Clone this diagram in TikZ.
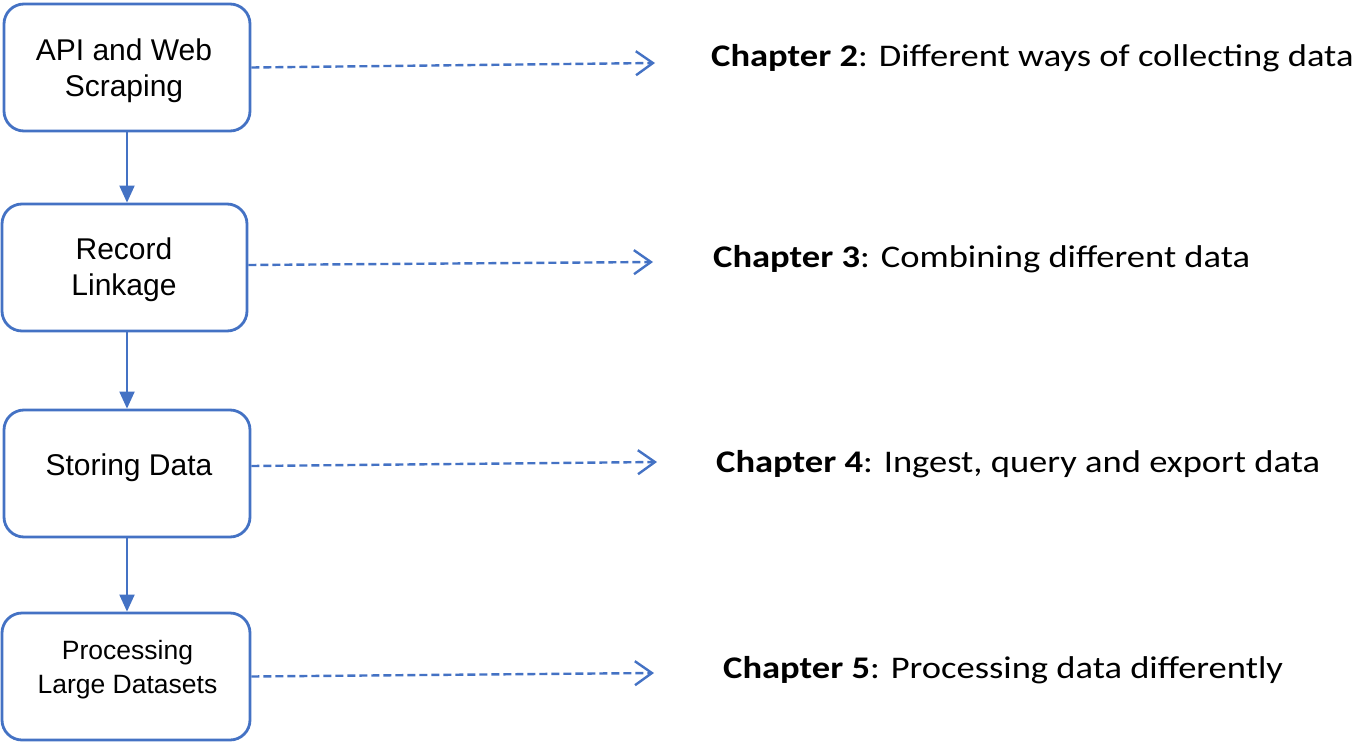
\documentclass[tikz,border=0pt]{standalone}
\usepackage{fontspec}
\setmainfont{Carlito}[FakeStretch=1.16]
\newfontfamily\boxfont{Liberation Sans}
\usetikzlibrary{arrows.meta,calc}
\definecolor{ob}{HTML}{4472C4}
\tikzset{
  stagebox/.style={draw=ob, line width=2.8pt, rounded corners=20pt, fill=white,
    minimum width=246pt, minimum height=127pt, inner sep=0pt},
  boxtext/.style={anchor=base, inner sep=0pt, text=black,
    font=\boxfont\fontsize{30}{36}\selectfont},
  smallboxtext/.style={boxtext, font=\boxfont\fontsize{26.5}{33}\selectfont},
  flowarrow/.style={draw=ob, line width=2pt, -{Triangle[length=17pt,width=15pt]}},
  chaparrow/.style={draw=ob, line width=2.4pt, dash pattern=on 8pt off 4pt,
    -{Straight Barb[length=17pt,width=24pt,line width=2.4pt]}},
  chaptext/.style={anchor=base west, inner sep=0pt, text=black,
    font=\fontsize{31.5}{37}\selectfont}
}
\begin{document}
\begin{tikzpicture}[x=1pt,y=-1pt]
\useasboundingbox (0,0) rectangle (1360,744);
\node[stagebox] (b1) at (127,67.5) {};
\node[stagebox, minimum width=245pt] (b2) at (124.5,267.5) {};
\node[stagebox] (b3) at (127,473.5) {};
\node[stagebox, minimum width=248pt] (b4) at (126,676.5) {};

\node[boxtext] (t1a) at (124,60) {API and Web};
\node[boxtext] (t1b) at (124,96) {Scraping};
\node[boxtext] (t2a) at (124,259) {Record};
\node[boxtext] (t2b) at (124,295) {Linkage};
\node[boxtext] (t3a) at (129,475) {Storing Data};
\node[smallboxtext] (t4a) at (127.5,659) {Processing};
\node[smallboxtext] (t4b) at (127.5,693) {Large Datasets};

\draw[flowarrow] (b1.south -| 127,0) -- (b2.north -| 127,0);
\draw[flowarrow] (b2.south -| 127,0) -- (b3.north -| 127,0);
\draw[flowarrow] (b3.south -| 127,0) -- (b4.north -| 127,0);

\coordinate (e1) at (655,63);
\coordinate (e2) at (653,262);
\coordinate (e3) at (657,462);
\coordinate (e4) at (654,673);
\draw[chaparrow] (b1.east) -- (e1);
\draw[chaparrow] ([yshift=2.5pt]b2.east) -- (e2);
\draw[chaparrow] ([yshift=7.5pt]b3.east) -- (e3);
\draw[chaparrow] (b4.east) -- (e4);

\node[chaptext] (c2) at (711,66) {\textbf{Chapter 2}: Different ways of collecting data};
\node[chaptext] (c3) at (713,267) {\textbf{Chapter 3}: Combining different data};
\node[chaptext] (c4) at (716,472) {\textbf{Chapter 4}: Ingest, query and export data};
\node[chaptext] (c5) at (723,678) {\textbf{Chapter 5}: Processing data differently};
\end{tikzpicture}
\end{document}
